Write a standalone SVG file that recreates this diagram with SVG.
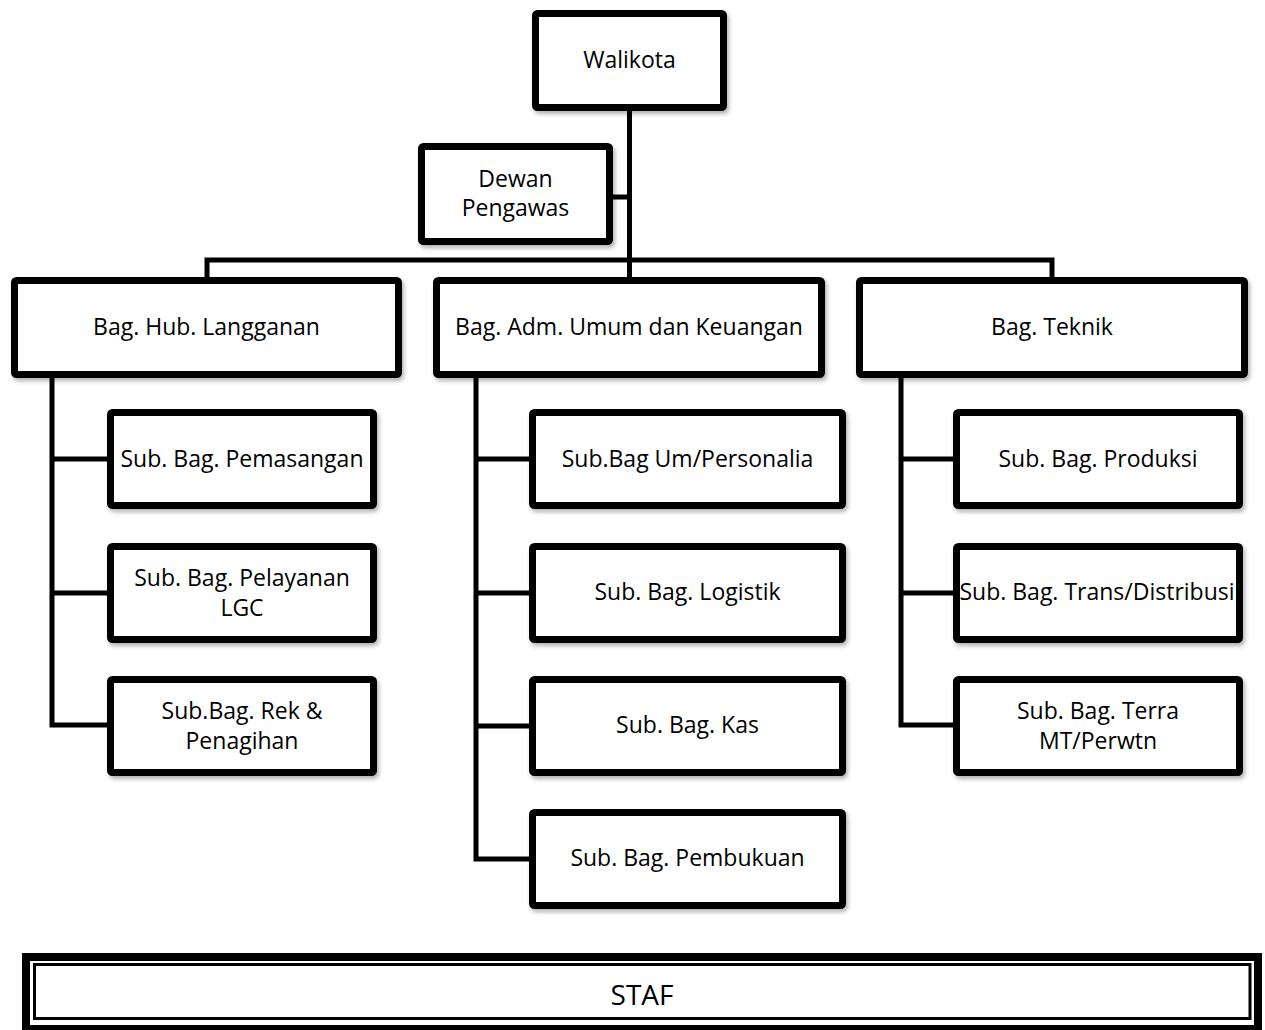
<svg xmlns="http://www.w3.org/2000/svg" width="1265" height="1030" viewBox="0 0 1265 1030">
<style>
.box{fill:#fff;stroke:#000;stroke-width:7;filter:url(#sh)}
.t{font-family:"Open Sans","Liberation Sans",sans-serif;font-size:23px;fill:#000;text-anchor:middle}
.c{fill:none;stroke:#000;stroke-width:5;stroke-linejoin:miter;stroke-linecap:butt}
</style>
<defs>
<filter id="sh" x="-10%" y="-10%" width="125%" height="130%">
<feDropShadow dx="2" dy="3" stdDeviation="2" flood-color="#000" flood-opacity="0.3"/>
</filter>
</defs>
<rect width="1265" height="1030" fill="#fff"/>
<g id="connectors">
<path class="c" d="M629.5,111 V277"/>
<path class="c" d="M613,197 H629.5"/>
<path class="c" d="M207,277 V260 H1052 V277"/>
<path class="c" d="M52,378 V725 H107 M52,459 H107 M52,593 H107"/>
<path class="c" d="M476,378 V859 H529 M476,459 H529 M476,593 H529 M476,726 H529"/>
<path class="c" d="M901,378 V725 H953 M901,459 H953 M901,593 H953"/>
</g>
<g id="walikota"><rect class="box" x="535.5" y="13.5" width="188" height="94" rx="2"/><text class="t" x="629.5" y="68">Walikota</text></g>
<g id="dewan"><rect class="box" x="421.5" y="146.5" width="188" height="95" rx="2"/><text class="t" x="515.5" y="187">Dewan</text><text class="t" x="515.5" y="216">Pengawas</text></g>
<g id="bag-hub"><rect class="box" x="14.5" y="280.5" width="384" height="94" rx="2"/><text class="t" x="206.5" y="335">Bag. Hub. Langganan</text></g>
<g id="bag-adm"><rect class="box" x="436.5" y="280.5" width="385" height="94" rx="2"/><text class="t" x="629" y="335">Bag. Adm. Umum dan Keuangan</text></g>
<g id="bag-teknik"><rect class="box" x="859.5" y="280.5" width="385" height="94" rx="2"/><text class="t" x="1052" y="335">Bag. Teknik</text></g>
<g id="sub-pemasangan"><rect class="box" x="110.5" y="412.5" width="263" height="93" rx="2"/><text class="t" x="242" y="467">Sub. Bag. Pemasangan</text></g>
<g id="sub-pelayanan"><rect class="box" x="110.5" y="546.5" width="263" height="93" rx="2"/><text class="t" x="242" y="586">Sub. Bag. Pelayanan</text><text class="t" x="242" y="616">LGC</text></g>
<g id="sub-rek"><rect class="box" x="110.5" y="679.5" width="263" height="93" rx="2"/><text class="t" x="242" y="719">Sub.Bag. Rek &amp;</text><text class="t" x="242" y="749">Penagihan</text></g>
<g id="sub-personalia"><rect class="box" x="532.5" y="412.5" width="310" height="93" rx="2"/><text class="t" x="687.5" y="467">Sub.Bag Um/Personalia</text></g>
<g id="sub-logistik"><rect class="box" x="532.5" y="546.5" width="310" height="93" rx="2"/><text class="t" x="687.5" y="600">Sub. Bag. Logistik</text></g>
<g id="sub-kas"><rect class="box" x="532.5" y="679.5" width="310" height="93" rx="2"/><text class="t" x="687.5" y="733">Sub. Bag. Kas</text></g>
<g id="sub-pembukuan"><rect class="box" x="532.5" y="812.5" width="310" height="93" rx="2"/><text class="t" x="687.5" y="866">Sub. Bag. Pembukuan</text></g>
<g id="sub-produksi"><rect class="box" x="956.5" y="412.5" width="283" height="93" rx="2"/><text class="t" x="1098" y="467">Sub. Bag. Produksi</text></g>
<g id="sub-trans"><rect class="box" x="956.5" y="546.5" width="283" height="93" rx="2"/><text class="t" x="1097" y="600">Sub. Bag. Trans/Distribusi</text></g>
<g id="sub-terra"><rect class="box" x="956.5" y="679.5" width="283" height="93" rx="2"/><text class="t" x="1098" y="719">Sub. Bag. Terra</text><text class="t" x="1098" y="749">MT/Perwtn</text></g>
<g id="staf">
<rect x="26" y="957" width="1232" height="72" fill="#fff" stroke="#000" stroke-width="8"/>
<rect x="34.5" y="964.5" width="1215.5" height="54" fill="none" stroke="#000" stroke-width="3"/>
<text class="t" x="642" y="1005" style="font-size:28px">STAF</text>
</g>
</svg>
